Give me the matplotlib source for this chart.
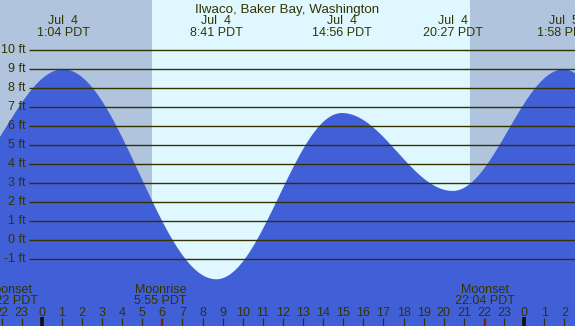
import numpy as np
import matplotlib
matplotlib.use("Agg")
import matplotlib.pyplot as plt
from matplotlib.transforms import blended_transform_factory

# ---- data ----
title = "Ilwaco, Baker Bay, Washington"
# tide extremes: hours relative to Jul 4 00:00 PDT, heights in ft
ext_hours = [-4.8, 1.067, 8.683, 14.933, 20.45, 25.967, 32.2]
ext_heights = [2.6, 9.0, -2.05, 6.7, 2.6, 9.0, -1.5]
# labelled extremes on top
lab_hours = [1.067, 8.683, 14.933, 20.45, 25.967]
lab_dates = ["Jul  4", "Jul  4", "Jul  4", "Jul  4", "Jul  5"]
lab_times = ["1:04 PDT", "8:41 PDT", "14:56 PDT", "20:27 PDT", "1:58 PDT"]
sunrise = 5.5
sunset = 21.3
moon_hours = [-2.63, 5.917, 22.067]
moon_names = ["Moonset", "Moonrise", "Moonset"]
moon_times = ["21:22 PDT", "5:55 PDT", "22:04 PDT"]
ft_levels = list(range(-1, 11))
hour_ticks = list(range(-2, 27))

# ---- style ----
W, H = 575, 326
night_c = "#b0c4de"
day_c = "#dff8ff"
tide_c = "#4160d8"
ink = "#333300"
x0, x1 = -2.075, 26.53
y0, y1 = -4.51, 12.65

fig = plt.figure(figsize=(W / 100, H / 100), dpi=100)
ax = fig.add_axes([0, 0, 1, 1])
ax.set_xlim(x0, x1)
ax.set_ylim(y0, y1)
ax.axis("off")
plt.rcParams["font.family"] = ["Liberation Sans", "DejaVu Sans"]
fs = 9


def ypix(p):
    """pixel row from top -> axes fraction"""
    return 1 - p / H


# background
ax.axvspan(x0, sunrise, color=night_c, lw=0, zorder=0)
ax.axvspan(sunrise, sunset, color=day_c, lw=0, zorder=0)
ax.axvspan(sunset, x1, color=night_c, lw=0, zorder=0)

# tide curve: cosine between successive extremes
t = np.linspace(x0, x1, 1200)
h = np.empty_like(t)
for i in range(len(ext_hours) - 1):
    ta, tb = ext_hours[i], ext_hours[i + 1]
    ha, hb = ext_heights[i], ext_heights[i + 1]
    m = (t >= ta) & (t <= tb)
    f = (1 - np.cos(np.pi * (t[m] - ta) / (tb - ta))) / 2
    h[m] = ha + (hb - ha) * f
ax.fill_between(t, y0, h, color=tide_c, lw=0, zorder=1)

# horizontal lines and labels
px = (x1 - x0) / W
for lv in ft_levels:
    ax.plot([x0 + 29 * px, x1], [lv, lv], color=ink, lw=1.0, zorder=2,
            solid_capstyle="butt")
    ax.text(x0 + 26 * px, lv, f"{lv} ft", ha="right", va="center",
            fontsize=fs, color=ink, zorder=3)

trans = blended_transform_factory(ax.transData, ax.transAxes)

# title
fig.text(0.5, ypix(12.5), title, ha="center", va="baseline", fontsize=9.6,
         color=ink)

# extreme labels
for hr, d, tm in zip(lab_hours, lab_dates, lab_times):
    ax.text(hr, ypix(24.5), d, transform=trans, ha="center", va="baseline",
            fontsize=fs, color=ink, zorder=4)
    ax.text(hr, ypix(36.5), tm, transform=trans, ha="center", va="baseline",
            fontsize=fs, color=ink, zorder=4)

# moon labels
for hr, nm, tm in zip(moon_hours, moon_names, moon_times):
    if hr < x0:
        # event before the chart start: label pinned near the left edge
        ax.text(x0 + 32 * px, ypix(293), nm, transform=trans, ha="right",
                va="baseline", fontsize=fs, color=ink, zorder=4)
        ax.text(x0 + 38 * px, ypix(304), tm, transform=trans, ha="right",
                va="baseline", fontsize=fs, color=ink, zorder=4)
        continue
    ax.text(hr, ypix(293), nm, transform=trans, ha="center", va="baseline",
            fontsize=fs, color=ink, zorder=4)
    ax.text(hr, ypix(304), tm, transform=trans, ha="center", va="baseline",
            fontsize=fs, color=ink, zorder=4)
    ax.plot([hr, hr], [0, 8 / H], transform=trans, color="#dd0000", lw=1.0,
            zorder=5, solid_capstyle="butt")

# hour ticks
for hr in hour_ticks:
    ax.text(hr, ypix(316), str(hr % 24), transform=trans, ha="center",
            va="baseline", fontsize=fs, color=ink, zorder=4)
    if hr % 24 == 0:
        ax.plot([hr, hr], [0, 9 / H], transform=trans, color="#111100",
                lw=2.6, zorder=5, solid_capstyle="butt")
    else:
        ax.plot([hr, hr], [0, 8 / H], transform=trans, color=ink, lw=0.9,
                zorder=4, solid_capstyle="butt")

fig.savefig("out.png", dpi=100)
